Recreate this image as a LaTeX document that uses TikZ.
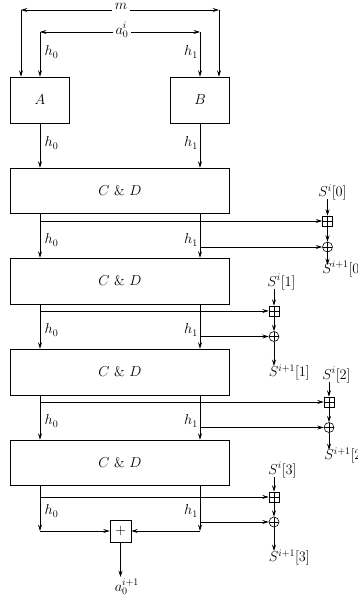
\documentclass[tikz,border=0pt]{standalone}
\usetikzlibrary{arrows.meta}
\begin{document}
\begin{tikzpicture}[x=1pt,y=-1pt,
  >={Stealth[length=6.5pt,width=4pt,inset=2.5pt]},
  line width=0.6pt,
  font=\fontsize{14}{16}\selectfont,
  blk/.style={draw, rectangle, inner sep=0pt},
  lbl/.style={inner sep=0pt},
  cover/.style={fill=white, inner sep=2.5pt},
  bplus/.style={draw, rectangle, minimum size=10pt, inner sep=0pt,
    path picture={\draw[line width=0.5pt] (path picture bounding box.north) -- (path picture bounding box.south)
      (path picture bounding box.west) -- (path picture bounding box.east);}},
  oplus/.style={draw, circle, minimum size=10pt, inner sep=0pt,
    path picture={\draw[line width=0.5pt] (path picture bounding box.north) -- (path picture bounding box.south)
      (path picture bounding box.west) -- (path picture bounding box.east);}},
  sumbox/.style={draw, rectangle, minimum width=21pt, minimum height=22pt, inner sep=0pt}
]
\useasboundingbox (0,0) rectangle (358,607);

% boxes
\node[blk, minimum width=59pt, minimum height=46pt] (A) at (40,100) {$A$};
\node[blk, minimum width=59pt, minimum height=46pt] (B) at (200,100) {$B$};
\node[blk, minimum width=219pt, minimum height=45pt] (CD1) at (120,190.5) {$C$ \& $D$};
\node[blk, minimum width=219pt, minimum height=46pt] (CD2) at (120,281) {$C$ \& $D$};
\node[blk, minimum width=219pt, minimum height=46pt] (CD3) at (120,372) {$C$ \& $D$};
\node[blk, minimum width=219pt, minimum height=45pt] (CD4) at (120,462.5) {$C$ \& $D$};

% top inputs
\coordinate (mL) at (21,10);
\coordinate (mR) at (219,10);
\coordinate (aL) at (40,32);
\coordinate (aR) at (200,32);
\draw[<->] (mL) -- (mR);
\draw[<->] (aL) -- (aR);
\node[cover] (m) at (121,6.5) {$m$};
\node[cover] (ai) at (122,30) {$a_0^i$};
\draw[->] (mL) -- (mL |- A.north);
\draw[->] (mR) -- (mR |- B.north);
\draw[->] (aL) -- (A.north);
\draw[->] (aR) -- (B.north);
\node[lbl] (h0a) at (51.5,52) {$h_0$};
\node[lbl] (h1a) at (191,52) {$h_1$};

% A,B to CD1
\draw[->] (A.south) -- (A.south |- CD1.north);
\draw[->] (B.south) -- (B.south |- CD1.north);
\node[lbl] (h0b) at (51.5,143) {$h_0$};
\node[lbl] (h1b) at (191,143) {$h_1$};

% between CD boxes
\foreach \u/\v/\ly in {CD1/CD2/240, CD2/CD3/330, CD3/CD4/421}{
  \draw[->] (\u.south -| A.south) -- (\v.north -| A.south);
  \draw[->] (\u.south -| B.south) -- (\v.north -| B.south);
  \node[lbl] at (51.5,\ly) {$h_0$};
  \node[lbl] at (191,\ly) {$h_1$};
}

% side groups
% group 1
\node[bplus] (bp1) at (327.5,221) {};
\node[oplus] (op1) at (327.5,247) {};
\coordinate (t1) at (40,221);
\coordinate (u1) at (200,247);
\draw[->] (t1) -- (bp1);
\draw[->] (u1) -- (op1);
\node[lbl, anchor=base west] (si0) at (318,196.5) {$S^i[0]$};
\coordinate (si0b) at (327.5,199);
\draw[->] (si0b) -- (bp1);
\draw[->] (bp1) -- (op1);
\coordinate (so0t) at (327.5,265);
\draw[->] (op1) -- (so0t);
\node[lbl, anchor=base west] (so0) at (322,273) {$S^{i+1}[0]$};

% group 2
\node[bplus] (bp2) at (274,311) {};
\node[oplus] (op2) at (274,336.5) {};
\coordinate (t2) at (40,311);
\coordinate (u2) at (200,336.5);
\draw[->] (t2) -- (bp2);
\draw[->] (u2) -- (op2);
\node[lbl, anchor=base west] (si1) at (267,286) {$S^i[1]$};
\coordinate (si1b) at (274,288.5);
\draw[->] (si1b) -- (bp2);
\draw[->] (bp2) -- (op2);
\coordinate (so1t) at (274,366);
\draw[->] (op2) -- (so1t);
\node[lbl, anchor=base west] (so1) at (268.5,376.5) {$S^{i+1}[1]$};

% group 3
\node[bplus] (bp3) at (329,402) {};
\node[oplus] (op3) at (329,427.5) {};
\coordinate (t3) at (40,402);
\coordinate (u3) at (200,427.5);
\draw[->] (t3) -- (bp3);
\draw[->] (u3) -- (op3);
\node[lbl, anchor=base west] (si2) at (322,379) {$S^i[2]$};
\coordinate (si2b) at (329,381.5);
\draw[->] (si2b) -- (bp3);
\draw[->] (bp3) -- (op3);
\coordinate (so2t) at (329,450);
\draw[->] (op3) -- (so2t);
\node[lbl, anchor=base west] (so2) at (324,459.5) {$S^{i+1}[2]$};

% group 4
\node[bplus] (bp4) at (274,497) {};
\node[oplus] (op4) at (274,522) {};
\coordinate (t4) at (40,497);
\coordinate (u4) at (200,522);
\draw[->] (t4) -- (bp4);
\draw[->] (u4) -- (op4);
\node[lbl, anchor=base west] (si3) at (268,474) {$S^i[3]$};
\coordinate (si3b) at (274,476.5);
\draw[->] (si3b) -- (bp4);
\draw[->] (bp4) -- (op4);
\coordinate (so3t) at (274,551);
\draw[->] (op4) -- (so3t);
\node[lbl, anchor=base west] (so3) at (268.5,561.5) {$S^{i+1}[3]$};

% final sum
\node[sumbox] (P) at (120.5,531) {$+$};
\coordinate (c0) at (40,531);
\coordinate (c1) at (200,531);
\draw[->] (CD4.south -| A.south) -- (c0);
\draw[->] (CD4.south -| B.south) -- (c1);
\draw[->] (c0) -- (P);
\draw[->] (c1) -- (P);
\node[lbl] (h0e) at (51.5,511) {$h_0$};
\node[lbl] (h1e) at (191,511) {$h_1$};
\coordinate (aout) at (120.5,577);
\draw[->] (P) -- (aout);
\node[lbl, anchor=north west] (ao) at (114.5,578.5) {$a_0^{i+1}$};
\end{tikzpicture}
\end{document}
